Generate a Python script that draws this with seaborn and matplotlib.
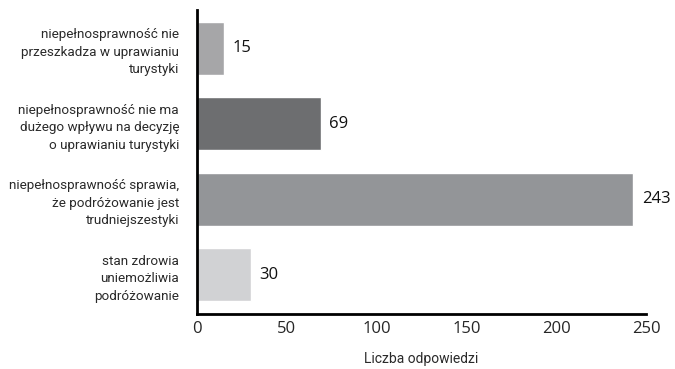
import matplotlib
matplotlib.use("Agg")
import matplotlib.pyplot as plt
import seaborn as sns
import pandas as pd

categories = [
    "niepełnosprawność nie\nprzeszkadza w uprawianiu\nturystyki",
    "niepełnosprawność nie ma\ndużego wpływu na decyzję\no uprawianiu turystyki",
    "niepełnosprawność sprawia,\nże podróżowanie jest\ntrudniejszestyki",
    "stan zdrowia\nuniemożliwia\npodróżowanie",
]
values = [15, 69, 243, 30]
colors = ["#a6a6a8", "#6d6e70", "#939598", "#d1d2d4"]
xticks = [0, 50, 100, 150, 200, 250]
xlabel = "Liczba odpowiedzi"

df = pd.DataFrame({"kategoria": categories, "liczba": values})

sns.set_style("white")
plt.rcParams["font.family"] = ["Roboto", "DejaVu Sans"]
num_font = ["Open Sans", "DejaVu Sans"]

fig = plt.figure(figsize=(6.75, 3.69), dpi=100)
ax = fig.add_axes([0.292, 0.149, 0.665, 0.824])

sns.barplot(data=df, x="liczba", y="kategoria", hue="kategoria",
            palette=colors, legend=False, width=0.7, saturation=1, ax=ax)

# value labels next to bars
for i, v in enumerate(values):
    ax.annotate(str(v), xy=(v, i), xytext=(6, 0), textcoords="offset points",
                va="center", ha="left", fontsize=12, family=num_font,
                color="#111111")

ax.set_xlim(0, 250)
ax.set_ylim(3.52, -0.51)
ax.set_xticks(xticks)
ax.set_xticklabels([str(t) for t in xticks], fontsize=12, family=num_font)
ax.tick_params(axis="x", direction="in", length=5, width=1.8, color="black", pad=5)
ax.tick_params(axis="y", length=0, pad=13)
for lab in ax.get_yticklabels():
    lab.set_fontsize(9.7)
    lab.set_color("#2a2a2a")
    lab.set_multialignment("right")
    lab.set_linespacing(1.45)

ax.set_xlabel(xlabel, fontsize=10, labelpad=11, color="#2a2a2a")
ax.set_ylabel("")

for s in ["top", "right"]:
    ax.spines[s].set_visible(False)
for s in ["left", "bottom"]:
    ax.spines[s].set_linewidth(2)
    ax.spines[s].set_color("black")

fig.savefig("out.png", dpi=100)
